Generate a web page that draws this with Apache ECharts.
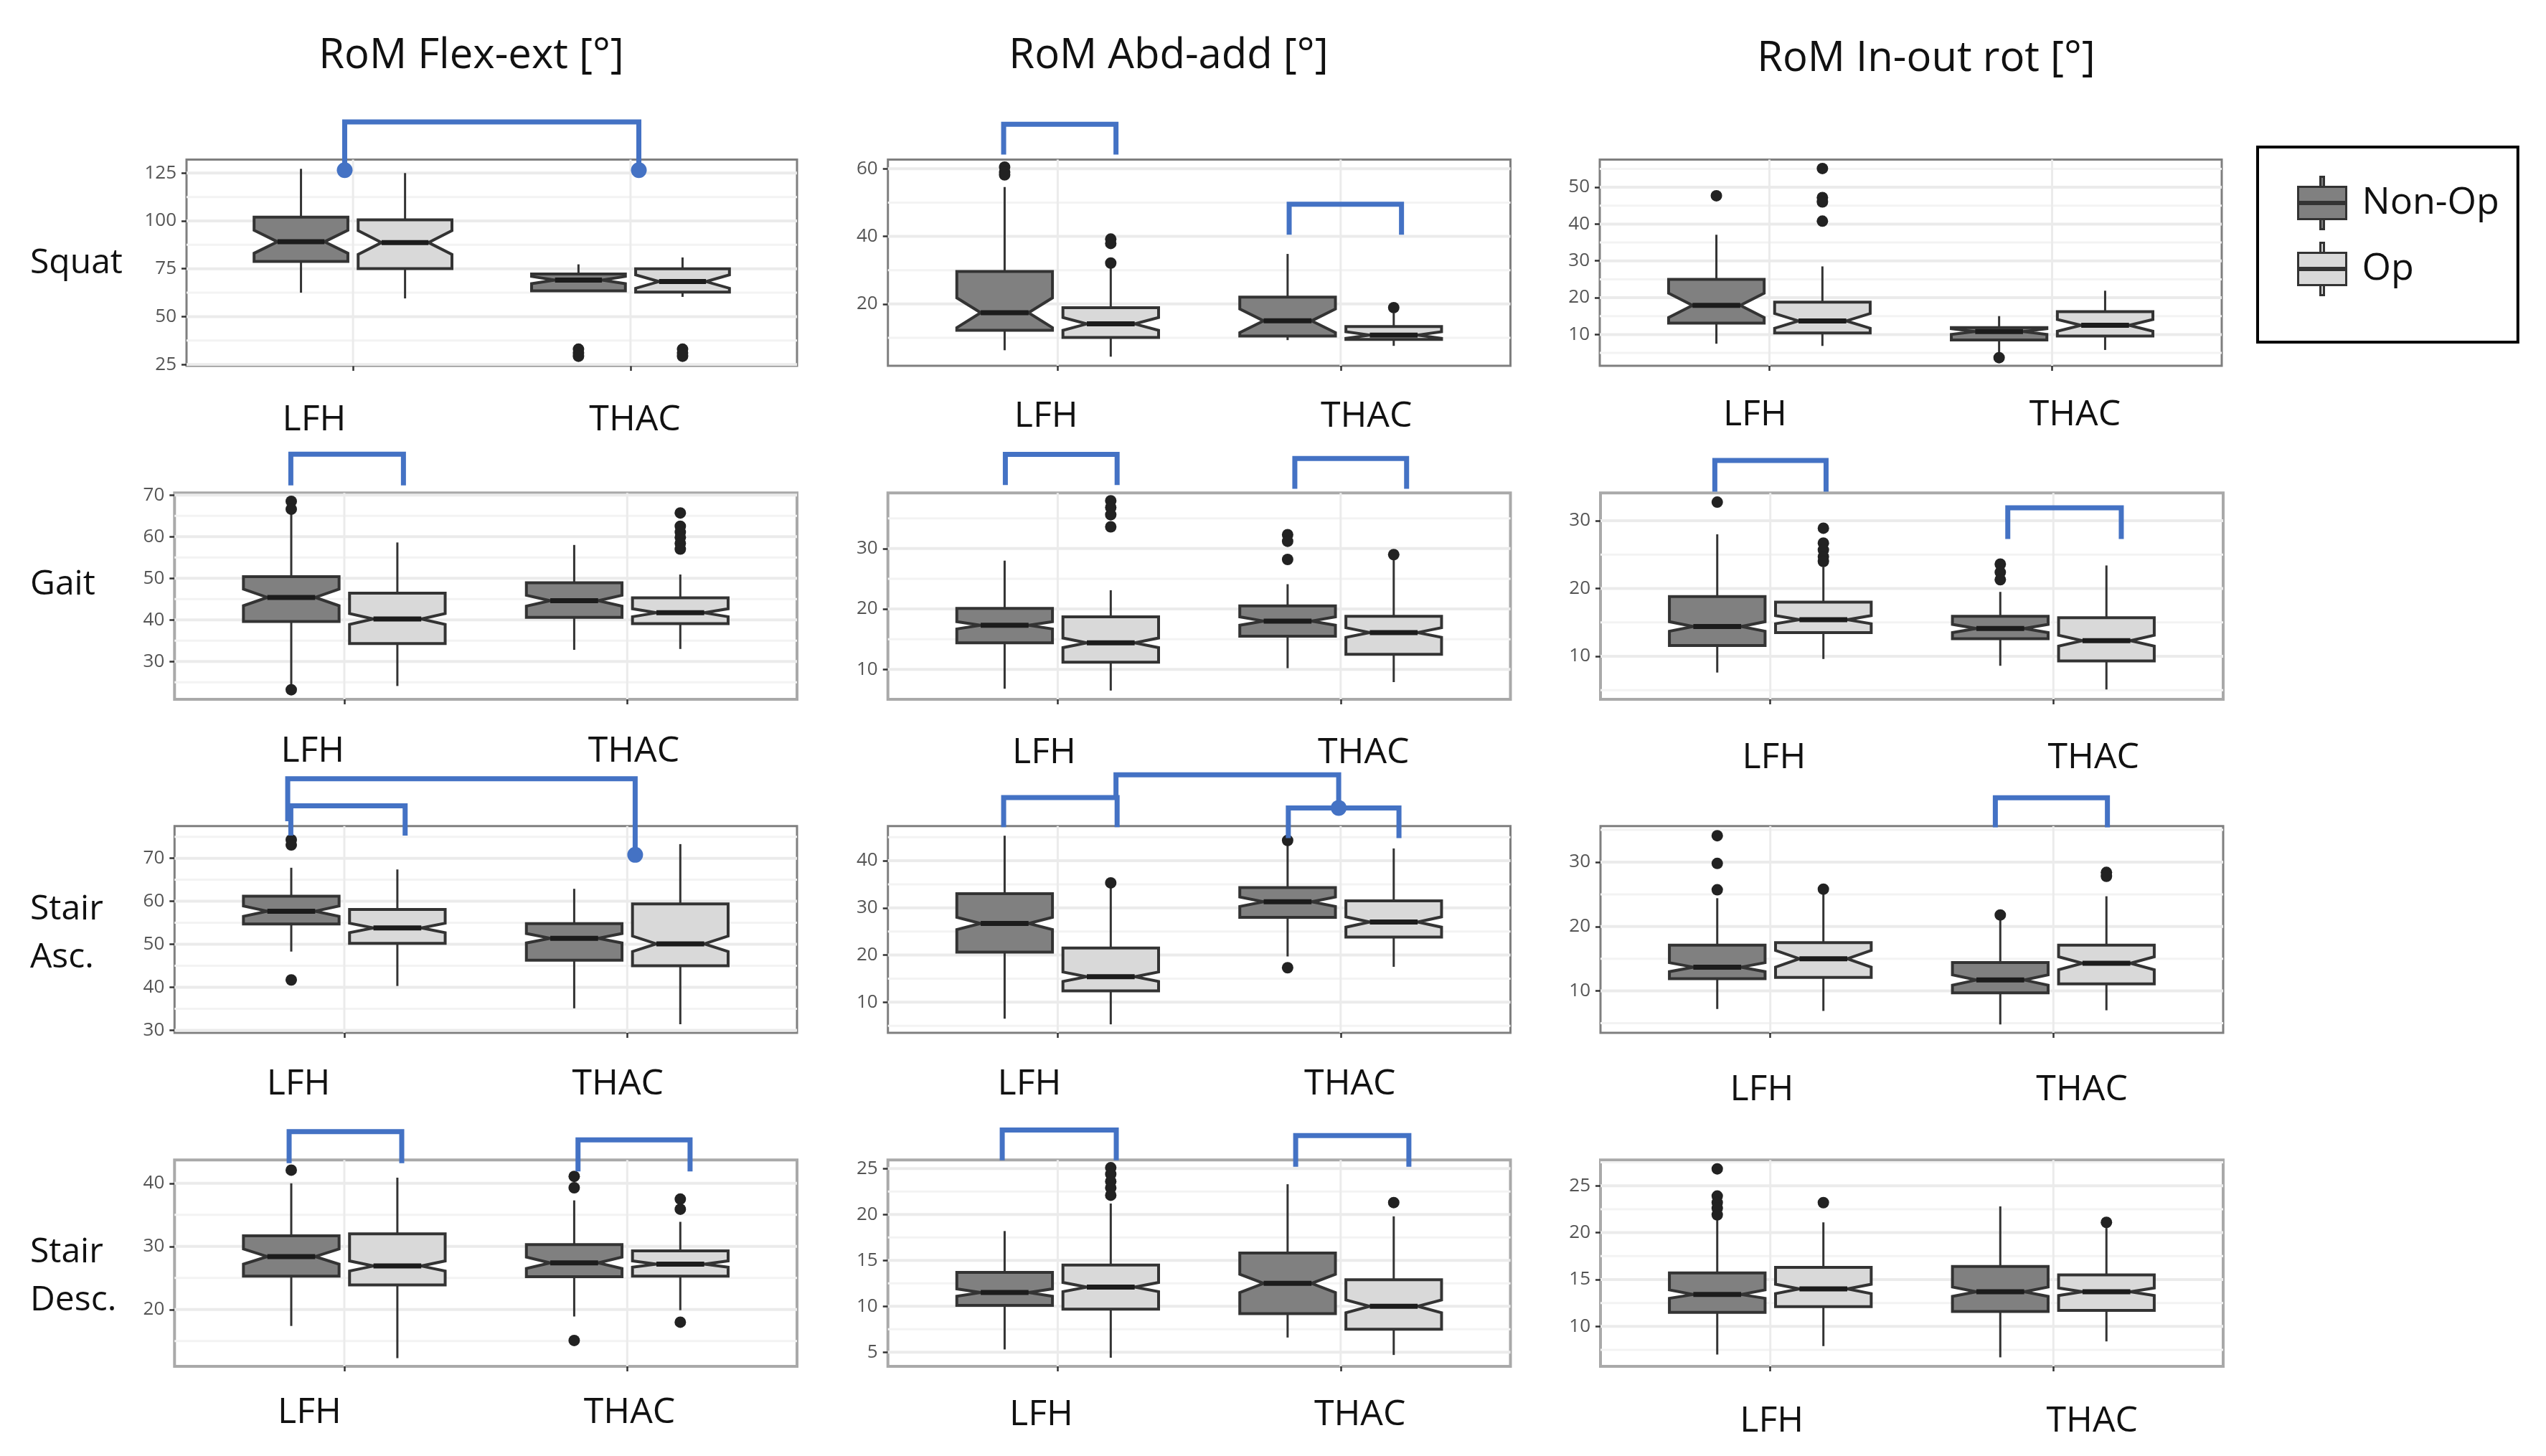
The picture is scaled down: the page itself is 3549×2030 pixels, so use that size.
<!DOCTYPE html>
<html>
<head>
<meta charset="utf-8">
<script src="https://cdn.jsdelivr.net/npm/echarts@6/dist/echarts.min.js"></script>
<style>
html,body{margin:0;padding:0;background:#fff;}
#chart{width:3549px;height:2030px;}
</style>
</head>
<body>
<div id="chart"></div>
<script>
// ---------------- DATA ----------------
const categories = ['LFH', 'THAC'];
const seriesNames = ['Non-Op', 'Op'];
const columnTitles = ['RoM Flex-ext [°]', 'RoM Abd-add [°]', 'RoM In-out rot [°]'];
const rowLabels = [['Squat'], ['Gait'], ['Stair', 'Asc.'], ['Stair', 'Desc.']];

// box values per category (LFH, THAC): [low whisker, Q1, notch low, median, notch high, Q3, high whisker]
// ---- Squat
const squatFlexNonOp = [[62.5, 78.8, 83.1, 89.1, 95.1, 102.0, 127.2], [63.0, 63.5, 67.2, 69.1, 71.0, 72.3, 77.3]];
const squatFlexOp    = [[59.5, 75.1, 82.5, 88.7, 94.9, 100.6, 125.0], [60.3, 62.8, 64.8, 68.3, 71.8, 75.0, 80.9]];
const squatFlexOutNonOp = [[], [33.0, 31.0, 29.3]];
const squatFlexOutOp    = [[], [33.0, 31.0, 29.3]];
const squatFlexBrackets = [[0.97, 2.03, 151.7, 126.5, 126.5, 1, 1]];
const squatFlexRange = [24.3, 132];
const squatFlexTicks = [25, 50, 75, 100, 125];

const squatAbdNonOp = [[6.3, 12.2, 13.0, 17.4, 21.8, 29.6, 54.6], [9.3, 10.5, 11.5, 15.0, 18.5, 22.0, 34.8]];
const squatAbdOp    = [[4.4, 10.1, 12.2, 14.1, 16.0, 18.9, 30.6], [7.6, 9.5, 9.8, 10.8, 11.8, 13.3, 17.3]];
const squatAbdOutNonOp = [[60.5, 59.0, 58.2], []];
const squatAbdOutOp    = [[39.2, 37.9, 32.1], [18.9]];
const squatAbdBrackets = [[0.809, 1.206, 73.2, 64.2, 64.2, 0, 0], [1.818, 2.215, 49.5, 40.5, 40.5, 0, 0]];
const squatAbdRange = [1.7, 62.7];
const squatAbdTicks = [20, 40, 60];

const squatRotNonOp = [[7.5, 13.1, 14.6, 17.9, 21.2, 25.0, 37.1], [5.0, 8.5, 10.0, 10.8, 11.6, 11.9, 15.0]];
const squatRotOp    = [[6.9, 10.4, 11.7, 13.7, 15.7, 18.8, 28.5], [5.8, 9.6, 10.9, 12.5, 14.1, 16.2, 21.9]];
const squatRotOutNonOp = [[47.7], [3.7]];
const squatRotOutOp    = [[55.1, 47.2, 46.0, 40.8], []];
const squatRotBrackets = [];
const squatRotRange = [1.5, 57.5];
const squatRotTicks = [10, 20, 30, 40, 50];

// ---- Gait
const gaitFlexNonOp = [[24.5, 39.6, 43.4, 45.4, 47.4, 50.4, 65.5], [32.8, 40.6, 43.3, 44.6, 45.9, 48.9, 58.0]];
const gaitFlexOp    = [[24.1, 34.3, 38.9, 40.2, 41.5, 46.4, 58.6], [33.0, 39.1, 40.75, 41.7, 42.65, 45.3, 50.9]];
const gaitFlexOutNonOp = [[68.5, 66.6, 23.2], []];
const gaitFlexOutOp    = [[], [65.7, 62.5, 61.1, 59.8, 58.4, 57.0]];
const gaitFlexBrackets = [[0.811, 1.209, 79.8, 72.3, 72.3, 0, 0]];
const gaitFlexRange = [20.9, 70.5];
const gaitFlexTicks = [30, 40, 50, 60, 70];

const gaitAbdNonOp = [[6.8, 14.4, 16.7, 17.3, 17.9, 20.1, 28.0], [10.2, 15.5, 17.3, 18.0, 18.7, 20.5, 24.1]];
const gaitAbdOp    = [[6.5, 11.2, 13.6, 14.4, 15.2, 18.7, 23.1], [7.9, 12.5, 15.3, 16.1, 16.9, 18.8, 28.2]];
const gaitAbdOutNonOp = [[], [32.3, 31.2, 28.2]];
const gaitAbdOutOp    = [[37.9, 36.8, 35.6, 33.6], [29.0]];
const gaitAbdBrackets = [[0.815, 1.21, 45.6, 40.5, 40.5, 0, 0], [1.838, 2.233, 44.9, 39.9, 39.9, 0, 0]];
const gaitAbdRange = [5.05, 39.2];
const gaitAbdTicks = [10, 20, 30];

const gaitRotNonOp = [[7.6, 11.6, 13.7, 14.4, 15.1, 18.8, 28.0], [8.6, 12.6, 13.5, 14.1, 14.7, 15.9, 19.5]];
const gaitRotOp    = [[9.6, 13.5, 14.8, 15.4, 16.0, 18.0, 23.2], [5.1, 9.3, 11.5, 12.3, 13.1, 15.7, 23.4]];
const gaitRotOutNonOp = [[32.75], [23.6, 22.4, 21.3]];
const gaitRotOutOp    = [[28.9, 26.7, 25.7, 24.7, 24.0], []];
const gaitRotBrackets = [[0.804, 1.197, 38.9, 34.3, 34.3, 0, 0], [1.839, 2.24, 31.9, 27.3, 27.3, 0, 0]];
const gaitRotRange = [3.65, 34.1];
const gaitRotTicks = [10, 20, 30];

// ---- Stair ascent
const ascFlexNonOp = [[48.3, 54.7, 56.5, 57.7, 58.9, 61.2, 67.8], [35.1, 46.3, 50.3, 51.4, 52.5, 54.8, 62.9]];
const ascFlexOp    = [[40.3, 50.2, 52.7, 53.8, 54.9, 58.1, 67.4], [31.4, 45.0, 48.3, 50.1, 51.9, 59.4, 73.3]];
const ascFlexOutNonOp = [[74.3, 73.1, 41.7], []];
const ascFlexOutOp    = [[], []];
const ascFlexBrackets = [[0.811, 1.215, 82.2, 75.3, 75.3, 0, 0], [0.80, 2.028, 88.5, 78.6, 70.8, 0, 1]];
const ascFlexRange = [29.4, 77.5];
const ascFlexTicks = [30, 40, 50, 60, 70];

const ascAbdNonOp = [[6.5, 20.6, 25.4, 26.7, 28.0, 33.0, 45.3], [19.7, 28.0, 30.3, 31.3, 32.3, 34.3, 43.4]];
const ascAbdOp    = [[5.3, 12.4, 14.4, 15.4, 16.4, 21.5, 34.5], [17.5, 23.8, 25.9, 27.0, 28.1, 31.5, 42.6]];
const ascAbdOutNonOp = [[], [44.3, 17.3]];
const ascAbdOutOp    = [[35.3], []];
const ascAbdBrackets = [[0.809, 1.21, 53.4, 47.1, 47.1, 0, 0], [1.815, 2.206, 51.2, 44.8, 44.8, 0, 0], [1.206, 1.993, 58.2, 53.4, 51.2, 0, 1]];
const ascAbdRange = [3.5, 47.35];
const ascAbdTicks = [10, 20, 30, 40];

const ascRotNonOp = [[7.2, 11.9, 13.0, 13.7, 14.4, 17.1, 24.4], [4.8, 9.7, 10.9, 11.7, 12.5, 14.4, 21.0]];
const ascRotOp    = [[6.9, 12.1, 13.7, 15.0, 16.3, 17.5, 25.0], [7.0, 11.1, 13.3, 14.3, 15.3, 17.1, 24.7]];
const ascRotOutNonOp = [[34.1, 29.8, 25.7], [21.8]];
const ascRotOutOp    = [[25.8], [28.4, 27.8]];
const ascRotBrackets = [[1.795, 2.191, 40.0, 35.4, 35.4, 0, 0]];
const ascRotRange = [3.5, 35.6];
const ascRotTicks = [10, 20, 30];

// ---- Stair descent
const descFlexNonOp = [[17.4, 25.3, 27.2, 28.4, 29.6, 31.7, 40.0], [18.9, 25.2, 26.5, 27.4, 28.3, 30.3, 37.3]];
const descFlexOp    = [[12.3, 23.9, 26.1, 26.9, 27.7, 32.0, 40.9], [19.9, 25.3, 26.7, 27.2, 27.7, 29.3, 33.9]];
const descFlexOutNonOp = [[42.1], [41.1, 39.3, 15.1]];
const descFlexOutOp    = [[], [37.5, 35.9, 18.0]];
const descFlexBrackets = [[0.805, 1.203, 48.2, 43.2, 43.2, 0, 0], [1.826, 2.222, 46.9, 41.9, 41.9, 0, 0]];
const descFlexRange = [11.0, 43.7];
const descFlexTicks = [20, 30, 40];

const descAbdNonOp = [[5.3, 10.1, 11.1, 11.5, 11.9, 13.7, 18.2], [6.6, 9.2, 11.5, 12.5, 13.5, 15.8, 23.3]];
const descAbdOp    = [[4.4, 9.7, 11.6, 12.1, 12.6, 14.5, 21.2], [4.7, 7.5, 9.3, 10.0, 10.7, 12.9, 19.8]];
const descAbdOutNonOp = [[], []];
const descAbdOutOp    = [[25.1, 24.4, 23.6, 22.9, 22.1], [21.3]];
const descAbdBrackets = [[0.804, 1.207, 29.2, 25.9, 25.9, 0, 0], [1.841, 2.241, 28.6, 25.2, 25.2, 0, 0]];
const descAbdRange = [3.46, 25.94];
const descAbdTicks = [5, 10, 15, 20, 25];

const descRotNonOp = [[7.0, 11.5, 13.0, 13.4, 13.9, 15.7, 21.4], [6.7, 11.6, 13.2, 13.7, 14.2, 16.4, 22.8]];
const descRotOp    = [[7.9, 12.1, 13.5, 14.0, 14.5, 16.3, 21.1], [8.4, 11.7, 13.3, 13.7, 14.1, 15.5, 20.5]];
const descRotOutNonOp = [[26.8, 23.9, 23.2, 22.6, 21.9], []];
const descRotOutOp    = [[23.2], [21.1]];
const descRotBrackets = [];
const descRotRange = [5.74, 27.75];
const descRotTicks = [10, 15, 20, 25];

// ---------------- LAYOUT (pixels / styling, not data) ----------------
const panels = [
  {box: [squatFlexNonOp, squatFlexOp], out: [squatFlexOutNonOp, squatFlexOutOp], br: squatFlexBrackets, range: squatFlexRange, ticks: squatFlexTicks},
  {box: [squatAbdNonOp, squatAbdOp],   out: [squatAbdOutNonOp, squatAbdOutOp],   br: squatAbdBrackets,  range: squatAbdRange,  ticks: squatAbdTicks},
  {box: [squatRotNonOp, squatRotOp],   out: [squatRotOutNonOp, squatRotOutOp],   br: squatRotBrackets,  range: squatRotRange,  ticks: squatRotTicks},
  {box: [gaitFlexNonOp, gaitFlexOp],   out: [gaitFlexOutNonOp, gaitFlexOutOp],   br: gaitFlexBrackets,  range: gaitFlexRange,  ticks: gaitFlexTicks},
  {box: [gaitAbdNonOp, gaitAbdOp],     out: [gaitAbdOutNonOp, gaitAbdOutOp],     br: gaitAbdBrackets,   range: gaitAbdRange,   ticks: gaitAbdTicks},
  {box: [gaitRotNonOp, gaitRotOp],     out: [gaitRotOutNonOp, gaitRotOutOp],     br: gaitRotBrackets,   range: gaitRotRange,   ticks: gaitRotTicks},
  {box: [ascFlexNonOp, ascFlexOp],     out: [ascFlexOutNonOp, ascFlexOutOp],     br: ascFlexBrackets,   range: ascFlexRange,   ticks: ascFlexTicks},
  {box: [ascAbdNonOp, ascAbdOp],       out: [ascAbdOutNonOp, ascAbdOutOp],       br: ascAbdBrackets,    range: ascAbdRange,    ticks: ascAbdTicks},
  {box: [ascRotNonOp, ascRotOp],       out: [ascRotOutNonOp, ascRotOutOp],       br: ascRotBrackets,    range: ascRotRange,    ticks: ascRotTicks},
  {box: [descFlexNonOp, descFlexOp],   out: [descFlexOutNonOp, descFlexOutOp],   br: descFlexBrackets,  range: descFlexRange,  ticks: descFlexTicks},
  {box: [descAbdNonOp, descAbdOp],     out: [descAbdOutNonOp, descAbdOutOp],     br: descAbdBrackets,   range: descAbdRange,   ticks: descAbdTicks},
  {box: [descRotNonOp, descRotOp],     out: [descRotOutNonOp, descRotOutOp],     br: descRotBrackets,   range: descRotRange,   ticks: descRotTicks}
];

const gridRects = [
  [260, 222.6, 851, 287.4], [1237.7, 222.6, 867.8, 287.4], [2230, 222.6, 867, 287.4],
  [243.3, 687.3, 867.7, 287.7], [1237.7, 687.3, 867.8, 287.7], [2231, 687.3, 868, 287.7],
  [243.3, 1151.7, 867.7, 288.3], [1237.7, 1151.7, 867.8, 288.3], [2231, 1151.7, 868, 288.3],
  [243.3, 1617.3, 867.7, 287.7], [1237.7, 1617.3, 867.8, 287.7], [2231, 1617.3, 868, 287.7]
];
const labelShift = [
  [-0.14, 0.016], [-0.041, 0.091], [-0.051, 0.081],
  [-0.112, 0.023], [-0.048, 0.081], [0.013, 0.142],
  [-0.162, -0.033], [-0.10, 0.033], [-0.03, 0.101],
  [-0.123, 0.008], [-0.058, 0.068], [0.005, 0.137]
];
const labelMargin = [76, 71, 69, 73, 75, 82, 72, 72, 80, 65, 68, 77];
const rowBorder = [['#7f7f7f', 3], ['#a9a9a9', 4], ['#7f7f7f', 3], ['#a9a9a9', 4]];

const FONT = '"Open Sans", "DejaVu Sans", sans-serif';
const FILLS = ['#808080', '#d9d9d9'];
const DODGE = 0.1875;
const HALF_W = 0.169;
const BLUE = '#4472C4';

function minorsOf(ticks, range) {
  const step = ticks[1] - ticks[0];
  const res = [];
  for (let v = ticks[0] - step / 2; v <= range[1] + 1e-9; v += step) {
    if (v >= range[0]) res.push(v);
  }
  return res;
}

function renderGridLines(params, api) {
  const cs = params.coordSys;
  const t = api.value(2);
  if (t === 2) {
    const x = api.coord([api.value(0), api.value(1)])[0];
    return {type: 'line', shape: {x1: x, y1: cs.y, x2: x, y2: cs.y + cs.height},
      style: {stroke: '#ebebeb', lineWidth: 3}};
  }
  const y = api.coord([api.value(0), api.value(1)])[1];
  return {type: 'line', shape: {x1: cs.x, y1: y, x2: cs.x + cs.width, y2: y},
    style: {stroke: t === 0 ? '#ebebeb' : '#f3f3f3', lineWidth: t === 0 ? 4 : 3}};
}

function makeBoxRenderer(fill) {
  return function (params, api) {
    const x = api.value(0);
    const lo = api.value(1), q1 = api.value(2), nl = api.value(3), md = api.value(4),
          nh = api.value(5), q3 = api.value(6), hi = api.value(7);
    const hw = HALF_W, ins = HALF_W * 0.5;
    const P = (a, b) => api.coord([a, b]);
    const top = P(x, q3), whTop = P(x, hi), bot = P(x, q1), whBot = P(x, lo);
    const poly = [P(x - hw, q3), P(x + hw, q3), P(x + hw, nh), P(x + hw - ins, md), P(x + hw, nl),
                  P(x + hw, q1), P(x - hw, q1), P(x - hw, nl), P(x - hw + ins, md), P(x - hw, nh)];
    const m1 = P(x - hw + ins, md), m2 = P(x + hw - ins, md);
    return {type: 'group', children: [
      {type: 'line', shape: {x1: top[0], y1: top[1], x2: whTop[0], y2: whTop[1]}, style: {stroke: '#333', lineWidth: 3}},
      {type: 'line', shape: {x1: bot[0], y1: bot[1], x2: whBot[0], y2: whBot[1]}, style: {stroke: '#333', lineWidth: 3}},
      {type: 'polygon', shape: {points: poly}, style: {fill: fill, stroke: '#333', lineWidth: 4, lineJoin: 'miter'}},
      {type: 'line', shape: {x1: m1[0], y1: m1[1], x2: m2[0], y2: m2[1]}, style: {stroke: '#1c1c1c', lineWidth: 7}}
    ]};
  };
}

function renderBracket(params, api) {
  const x1 = api.value(0), x2 = api.value(1), yt = api.value(2), yl = api.value(3), yr = api.value(4);
  const dl = api.value(5), dr = api.value(6);
  const a = api.coord([x1, yl]), b = api.coord([x1, yt]), c = api.coord([x2, yt]), d = api.coord([x2, yr]);
  const children = [{type: 'polyline', shape: {points: [a, b, c, d]},
    style: {stroke: BLUE, lineWidth: 7, fill: null, lineJoin: 'miter', lineCap: 'butt'}}];
  if (dl) children.push({type: 'circle', shape: {cx: a[0], cy: a[1], r: 11}, style: {fill: BLUE}});
  if (dr) children.push({type: 'circle', shape: {cx: d[0], cy: d[1], r: 11}, style: {fill: BLUE}});
  return {type: 'group', children: children};
}

const grids = [], xAxes = [], yAxes = [], series = [];

panels.forEach((p, i) => {
  const r = gridRects[i];
  const row = Math.floor(i / 3);
  grids.push({left: r[0], top: r[1], width: r[2], height: r[3], show: true, backgroundColor: '#ffffff',
    borderColor: rowBorder[row][0], borderWidth: rowBorder[row][1], containLabel: false, outerBoundsMode: 'none'});
  const sh = labelShift[i];
  xAxes.push({type: 'value', gridIndex: i, min: 0.4, max: 2.6,
    axisLine: {show: false}, splitLine: {show: false},
    axisTick: {show: true, customValues: [1, 2], length: 7, lineStyle: {color: '#333', width: 2.5}},
    axisLabel: {show: true, customValues: [1 + sh[0], 2 + sh[1]], margin: labelMargin[i],
      formatter: v => (v < 1.5 ? categories[0] : categories[1]),
      fontSize: 50, fontFamily: FONT, color: '#111', verticalAlign: 'middle'}});
  yAxes.push({type: 'value', gridIndex: i, min: p.range[0], max: p.range[1],
    axisLine: {show: false}, splitLine: {show: false},
    axisTick: {show: true, customValues: p.ticks, length: 7, lineStyle: {color: '#333', width: 2.5}},
    axisLabel: {show: true, customValues: p.ticks, margin: 14, fontSize: 26, fontFamily: FONT, color: '#555'}});

  // grid lines
  const gl = [];
  p.ticks.forEach(v => gl.push([1.5, v, 0]));
  minorsOf(p.ticks, p.range).forEach(v => gl.push([1.5, v, 1]));
  [1, 2].forEach(v => gl.push([v, p.range[0], 2]));
  series.push({type: 'custom', xAxisIndex: i, yAxisIndex: i, z: 1, silent: true, clip: false,
    renderItem: renderGridLines, data: gl});

  // boxes and outliers
  [0, 1].forEach(g => {
    const off = g === 0 ? -DODGE : DODGE;
    series.push({type: 'custom', name: seriesNames[g], xAxisIndex: i, yAxisIndex: i, z: 3, silent: true, clip: false,
      itemStyle: {color: FILLS[g]},
      renderItem: makeBoxRenderer(FILLS[g]),
      data: p.box[g].map((v, c) => [c + 1 + off].concat(v))});
    const pts = [];
    p.out[g].forEach((list, c) => list.forEach(y => pts.push([c + 1 + off, y])));
    series.push({type: 'scatter', xAxisIndex: i, yAxisIndex: i, z: 4, silent: true,
      symbol: 'circle', symbolSize: 16, itemStyle: {color: '#222', opacity: 1}, data: pts});
  });

  // significance brackets
  if (p.br.length) {
    series.push({type: 'custom', xAxisIndex: i, yAxisIndex: i, z: 6, silent: true, clip: false,
      renderItem: renderBracket, data: p.br});
  }
});

// text: column titles and row labels
const graphics = [];
const titleX = [657, 1629, 2685], titleY = [78, 78, 82];
columnTitles.forEach((t, k) => graphics.push({type: 'text', x: titleX[k], y: titleY[k], silent: true,
  style: {text: t, font: '58px ' + FONT, fill: '#111', textAlign: 'center', textVerticalAlign: 'middle'}}));
const rowLabelY = [[367], [815], [1268, 1335], [1746, 1813]];
rowLabels.forEach((lines, rIdx) => lines.forEach((t, li) => graphics.push({type: 'text', x: 42, y: rowLabelY[rIdx][li], silent: true,
  style: {text: t, font: '48px ' + FONT, fill: '#111', textAlign: 'left', textVerticalAlign: 'middle'}})));

const boxIcon = 'path://M31,0L36,0L36,14L31,14Z M0,14L67,14L67,35L0,35Z M0,38L67,38L67,59L0,59Z M31,59L36,59L36,73L31,73Z';

const option = {
  animation: false,
  backgroundColor: '#ffffff',
  grid: grids,
  xAxis: xAxes,
  yAxis: yAxes,
  series: series,
  graphic: graphics,
  legend: {
    show: true, orient: 'vertical', left: 3147, top: 205,
    padding: [40, 26, 64, 55], itemGap: 16, itemWidth: 67, itemHeight: 73,
    borderColor: '#000', borderWidth: 4, backgroundColor: '#fff', selectedMode: false,
    textStyle: {fontSize: 52, fontFamily: FONT, color: '#111', padding: [0, 0, 0, 17]},
    data: [
      {name: seriesNames[0], icon: boxIcon, itemStyle: {color: FILLS[0], borderColor: '#333', borderWidth: 3}},
      {name: seriesNames[1], icon: boxIcon, itemStyle: {color: FILLS[1], borderColor: '#333', borderWidth: 3}}
    ]
  }
};

const chart = echarts.init(document.getElementById('chart'), null, {width: 3549, height: 2030, renderer: 'canvas'});
chart.setOption(option);
</script>
</body>
</html>
